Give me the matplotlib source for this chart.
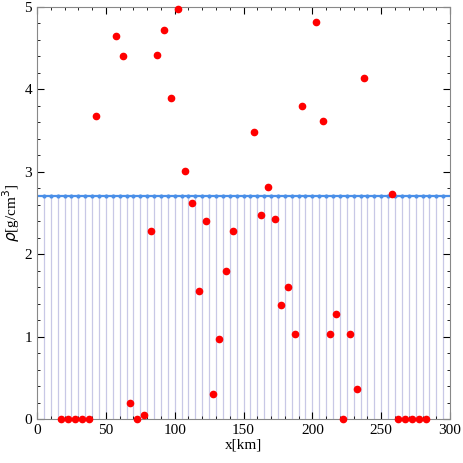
import matplotlib.pyplot as plt
import numpy as np

plt.rcParams['font.family'] = ['Liberation Serif', 'DejaVu Serif']

# reference density line
ref_x = np.arange(5, 300, 5)
ref_rho = 2.7

# measured points
pt_x = [17.5, 22.5, 27.5, 32.5, 37.5, 42.5, 57.5, 62.5, 67.5, 72.5, 77.5, 82.5,
        87.5, 92.5, 97.5, 102.5, 107.5, 112.5, 117.5, 122.5, 127.5, 132.5, 137.5,
        142.5, 157.5, 162.5, 167.5, 172.5, 177.5, 182.5, 187.5, 192.5, 202.5,
        207.5, 212.5, 217.5, 222.5, 227.5, 232.5, 237.5, 257.5, 262.5, 267.5,
        272.5, 277.5, 282.5]
pt_rho = [0, 0, 0, 0, 0, 3.68, 4.65, 4.4, 0.2, 0, 0.05, 2.28,
          4.42, 4.72, 3.9, 4.97, 3.01, 2.62, 1.55, 2.4, 0.3, 0.97, 1.8,
          2.28, 3.48, 2.48, 2.81, 2.43, 1.38, 1.6, 1.03, 3.8, 4.82,
          3.62, 1.03, 1.27, 0, 1.03, 0.37, 4.14, 2.73, 0, 0, 0, 0, 0]

fig, ax = plt.subplots(figsize=(4.63, 4.63), dpi=100)
fig.subplots_adjust(left=0.08, right=0.972, top=0.985, bottom=0.095)

ax.vlines(ref_x, 0, ref_rho, color='#c8c8e6', linewidth=0.9, zorder=1)
ax.axhline(ref_rho, color='#4a8fe8', linewidth=1.6, zorder=2)
ax.plot(ref_x, [ref_rho] * len(ref_x), 'o', color='#4a8fe8', markersize=2, zorder=2)
ax.plot(pt_x, pt_rho, 'o', color='#ff0000', markersize=4.5, zorder=3, clip_on=False)

ax.set_xlim(0, 300)
ax.set_ylim(0, 5)
ax.set_xticks(range(0, 301, 50))
ax.set_xticks(range(0, 301, 10), minor=True)
ax.set_yticks(range(0, 6))
ax.set_yticks(np.arange(0, 5.01, 0.2), minor=True)
ax.tick_params(direction='in', which='both', top=True, right=True, labelsize=11)
ax.tick_params(which='major', length=5)
ax.tick_params(which='minor', length=2.5)
for s in ax.spines.values():
    s.set_color('#888888')

ax.set_xlabel('x[km]', fontsize=11, labelpad=1)
ax.set_ylabel(r'$\rho$[g/cm$^3$]', fontsize=11, labelpad=2)

plt.savefig('out.png')
